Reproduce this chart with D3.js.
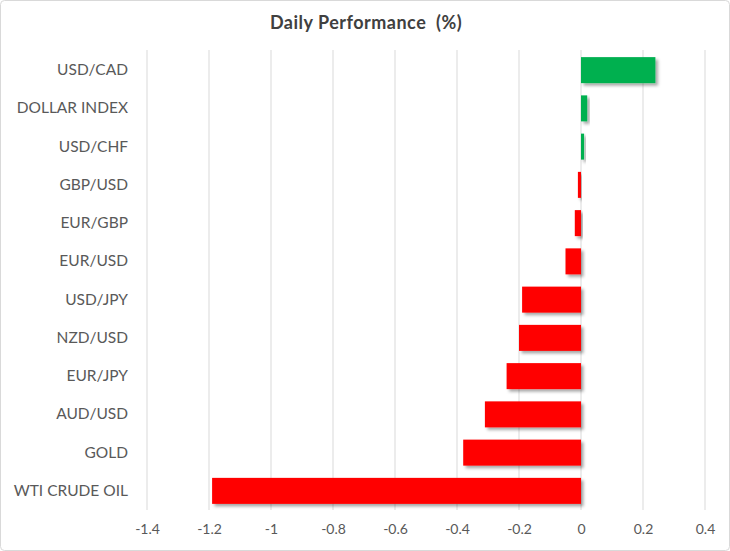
<!DOCTYPE html>
<html>
<head>
<meta charset="utf-8">
<script src="https://cdn.jsdelivr.net/npm/d3@7"></script>
<style>
  body { margin: 0; background: #fff; }
  svg { display: block; }
</style>
</head>
<body>
<svg id="chart" width="730" height="551"></svg>
<script>
// data
const categories = ["USD/CAD", "DOLLAR INDEX", "USD/CHF", "GBP/USD", "EUR/GBP", "EUR/USD",
                    "USD/JPY", "NZD/USD", "EUR/JPY", "AUD/USD", "GOLD", "WTI CRUDE OIL"];
const values = [0.24, 0.02, 0.01, -0.01, -0.02, -0.05, -0.19, -0.20, -0.24, -0.31, -0.38, -1.19];
const ticks = [-1.4, -1.2, -1, -0.8, -0.6, -0.4, -0.2, 0, 0.2, 0.4];
const title = "Daily Performance  (%)";

const svg = d3.select("#chart");
const W = 730, H = 551;
const font = "Lato, 'Open Sans', sans-serif";

// outer frame
svg.append("rect")
    .attr("x", 0.5).attr("y", 0.5)
    .attr("width", W - 1).attr("height", H - 1)
    .attr("rx", 4)
    .attr("fill", "#fff")
    .attr("stroke", "#d9d9d9");

let defs = svg.append("defs");
let f = defs.append("filter").attr("id", "shadow")
    .attr("x", "-20%").attr("y", "-30%").attr("width", "150%").attr("height", "170%");
f.append("feDropShadow")
    .attr("dx", 2.5).attr("dy", 2.5).attr("stdDeviation", 1.6)
    .attr("flood-color", "#000").attr("flood-opacity", 0.35);

const x = d3.scaleLinear().domain([-1.4, 0.4]).range([147, 705]);
const y = d3.scaleBand().domain(categories).range([51, 510]).paddingInner(0.32).paddingOuter(0.16);

// gridlines
svg.append("g")
    .selectAll("line")
    .data(ticks)
    .join("line")
        .attr("x1", d => x(d)).attr("x2", d => x(d))
        .attr("y1", 50).attr("y2", 510)
        .attr("stroke", "#d9d9d9")
        .attr("stroke-width", 1);

// bars
svg.append("g")
    .selectAll("rect")
    .data(values)
    .join("rect")
        .attr("x", d => x(Math.min(0, d)))
        .attr("y", (d, i) => y(categories[i]))
        .attr("width", d => Math.abs(x(d) - x(0)))
        .attr("height", y.bandwidth())
        .attr("fill", d => d >= 0 ? "#00b050" : "#ff0000")
        .attr("filter", "url(#shadow)");

// x tick labels (plain hyphen like the original)
const xAxis = d3.axisBottom(x).tickValues(ticks).tickSize(0).tickPadding(0)
    .tickFormat(d => String(+d.toFixed(1)));
let gx = svg.append("g").attr("transform", "translate(0,524)").call(xAxis);
gx.select(".domain").remove();
gx.selectAll("text")
    .attr("dy", "0.71em")
    .attr("fill", "#595959")
    .style("font-family", font)
    .style("font-size", "14px");

// category labels
const yAxis = d3.axisLeft(y).tickSize(0).tickPadding(0);
let gy = svg.append("g").attr("transform", "translate(128,0)").call(yAxis);
gy.select(".domain").remove();
gy.selectAll("text")
    .attr("fill", "#595959")
    .style("font-family", font)
    .style("font-size", "15.5px");

// title
svg.append("text")
    .attr("x", 366).attr("y", 29)
    .attr("text-anchor", "middle")
    .attr("fill", "#404040")
    .style("font-family", font)
    .style("font-size", "18px")
    .style("font-weight", "bold")
    .style("letter-spacing", "0.5px")
    .style("white-space", "pre")
    .text(title);
</script>
</body>
</html>
